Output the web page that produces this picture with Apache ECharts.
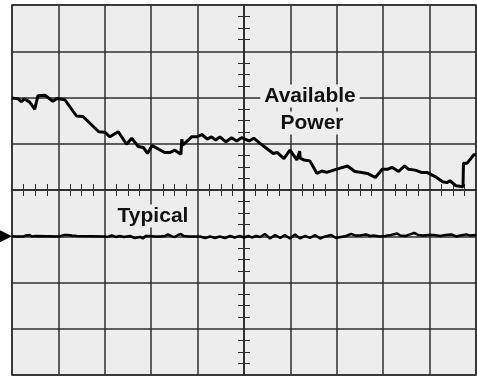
<!DOCTYPE html>
<html>
<head>
<meta charset="utf-8">
<script src="https://cdn.jsdelivr.net/npm/echarts@6/dist/echarts.min.js"></script>
<style>
  html, body { margin: 0; padding: 0; background: #ffffff; }
  #chart { width: 477px; height: 378px; }
</style>
</head>
<body>
<div id="chart"></div>
<script>
// time in tenths of a division (10 per division), level in tenths of a division
var powerTime = [-50, -48.7, -48.0, -47.3, -46.2, -45.1, -44.4, -42.9, -41.2, -40.3, -38.6, -36.1, -34.7, -31.3, -30.0, -28.9, -27.1, -25.3, -24.2, -22.8, -21.7, -20.8, -19.8, -17.1, -16.0, -14.9, -13.6, -13.4, -13.2, -11.3, -10.1, -9.1, -7.9, -7.0, -6.1, -5.2, -3.9, -2.7, -1.6, -0.5, 1.1, 2.1, 4.2, 6.3, 7.2, 8.6, 9.9, 11.4, 12.0, 12.1, 12.9, 14.2, 15.7, 16.8, 17.8, 20.0, 22.3, 23.9, 25.4, 26.8, 28.3, 29.8, 31.0, 31.9, 33.3, 34.6, 35.4, 36.9, 38.2, 39.4, 41.2, 42.8, 43.7, 44.4, 45.7, 47.2, 47.3, 48.1, 49.5, 50];
var powerLevel = [19.9, 19.7, 19.1, 19.7, 19.0, 17.5, 20.4, 20.5, 19.2, 19.8, 19.5, 16.0, 15.9, 12.6, 12.5, 11.5, 12.6, 9.9, 11.2, 9.4, 9.2, 7.9, 9.6, 8.1, 8.1, 8.6, 7.7, 11.0, 9.7, 11.5, 11.5, 12.0, 11.0, 11.5, 10.8, 11.5, 10.4, 11.3, 10.6, 11.3, 10.6, 11.2, 9.5, 7.9, 8.1, 6.8, 8.6, 6.5, 8.4, 6.9, 6.5, 6.3, 3.6, 4.1, 3.8, 4.5, 5.2, 4.0, 3.8, 3.5, 2.7, 4.5, 4.5, 4.9, 4.0, 5.2, 4.5, 4.3, 3.8, 3.8, 2.9, 1.8, 1.6, 2.0, 0.9, 0.7, 5.8, 5.8, 7.6, 7.6];

var typicalTime = [-50, -49.6, -49.2, -48.8, -48.3, -47.9, -47.5, -47.0, -46.6, -46.2, -45.7, -45.3, -44.9, -39.7, -39.3, -38.8, -38.4, -38.0, -37.6, -37.1, -36.7, -36.0, -30.0, -29.4, -28.5, -27.6, -26.8, -25.9, -24.6, -23.5, -22.4, -21.8, -21.2, -20.3, -19.2, -18.1, -17.0, -16.4, -15.5, -14.9, -14.2, -13.6, -13.0, -11.7, -10.2, -9.5, -8.4, -7.3, -6.3, -5.2, -4.1, -3.0, -2.0, -0.9, 0, 0.9, 1.7, 2.6, 3.5, 4.5, 5.6, 6.7, 7.8, 8.8, 9.9, 11.0, 12.1, 13.2, 14.2, 15.3, 16.4, 17.5, 18.8, 19.8, 20.9, 22.0, 23.1, 23.9, 25.0, 26.3, 27.2, 28.0, 29.3, 30.4, 31.7, 33.0, 33.7, 34.8, 35.8, 36.7, 37.5, 38.6, 39.7, 41.0, 42.3, 43.4, 44.7, 45.7, 46.6, 47.9, 48.7, 50];
var typicalLevel = [-9.94, -9.72, -10.04, -9.72, -10.04, -9.72, -10.04, -9.83, -10.04, -9.72, -10.04, -9.72, -9.94, -10.04, -10.04, -9.72, -10.15, -9.72, -10.15, -9.83, -10.04, -9.94, -10.04, -10.15, -9.83, -10.15, -9.94, -10.15, -9.94, -10.37, -10.15, -10.48, -9.94, -9.94, -10.04, -10.04, -9.94, -9.6, -10.04, -10.15, -9.72, -9.5, -9.94, -10.04, -10.04, -10.04, -10.37, -10.04, -10.37, -10.04, -10.37, -9.94, -10.26, -9.94, -10.26, -9.94, -10.26, -9.94, -10.15, -9.5, -10.48, -9.72, -10.37, -9.72, -10.48, -9.6, -10.48, -9.94, -10.37, -9.72, -10.48, -10.04, -9.72, -10.37, -10.15, -9.94, -9.5, -9.83, -9.83, -9.6, -9.94, -9.83, -10.04, -9.94, -9.72, -9.4, -9.83, -9.94, -9.6, -9.29, -9.72, -9.83, -9.72, -9.72, -9.94, -9.72, -9.6, -10.04, -9.83, -9.6, -9.83, -9.72];

var groundLevel = -10;

function pairs(xs, ys) {
  return xs.map(function (x, i) { return [x, ys[i]]; });
}

var gridColor = '#2e2e2e';
var lineStyle = { color: gridColor, width: 1.5 };

function centerAxis(min, max, position, withSplit) {
  return {
    type: 'value',
    min: min,
    max: max,
    interval: 10,
    position: position,
    axisLine: { show: true, onZero: true, lineStyle: lineStyle },
    axisTick: { show: false },
    minorTick: { show: true, splitNumber: 4, length: 6, lineStyle: { color: gridColor, width: 1 } },
    axisLabel: { show: false },
    splitLine: { show: withSplit, lineStyle: lineStyle }
  };
}

var chart = echarts.init(document.getElementById('chart'));
chart.setOption({
  animation: false,
  backgroundColor: '#ffffff',
  grid: {
    left: 12, right: 1, top: 5, bottom: 3,
    show: true,
    backgroundColor: '#ededed',
    borderColor: gridColor,
    borderWidth: 1.5
  },
  xAxis: [centerAxis(-50, 50, 'bottom', true), centerAxis(-50, 50, 'top', false)],
  yAxis: [centerAxis(-40, 40, 'left', true), centerAxis(-40, 40, 'right', false)],
  series: [
    {
      type: 'line',
      data: pairs(powerTime, powerLevel),
      showSymbol: false,
      clip: false,
      lineStyle: { color: '#000000', width: 3 }
    },
    {
      type: 'line',
      data: pairs(typicalTime, typicalLevel),
      showSymbol: false,
      clip: false,
      lineStyle: { color: '#000000', width: 2.5 },
      markPoint: {
        silent: true,
        label: { show: false },
        itemStyle: { color: '#000000' },
        data: [{
          coord: [-50, groundLevel],
          symbol: 'triangle',
          symbolSize: [12, 12],
          symbolRotate: -90,
          symbolOffset: [-6, 0]
        }]
      }
    }
  ],
  graphic: [
    {
      type: 'text', x: 310, y: 96, z: 100,
      style: {
        text: 'Available', font: 'bold 21px "Liberation Sans", Arial, sans-serif',
        fill: '#111111', textAlign: 'center', textVerticalAlign: 'middle',
        backgroundColor: '#ededed', padding: [1, 4]
      }
    },
    {
      type: 'text', x: 312, y: 123, z: 100,
      style: {
        text: 'Power', font: 'bold 21px "Liberation Sans", Arial, sans-serif',
        fill: '#111111', textAlign: 'center', textVerticalAlign: 'middle',
        backgroundColor: '#ededed', padding: [1, 4]
      }
    },
    {
      type: 'text', x: 153, y: 216, z: 100,
      style: {
        text: 'Typical', font: 'bold 21px "Liberation Sans", Arial, sans-serif',
        fill: '#111111', textAlign: 'center', textVerticalAlign: 'middle',
        backgroundColor: '#ededed', padding: [1, 4]
      }
    }
  ]
});
</script>
</body>
</html>
